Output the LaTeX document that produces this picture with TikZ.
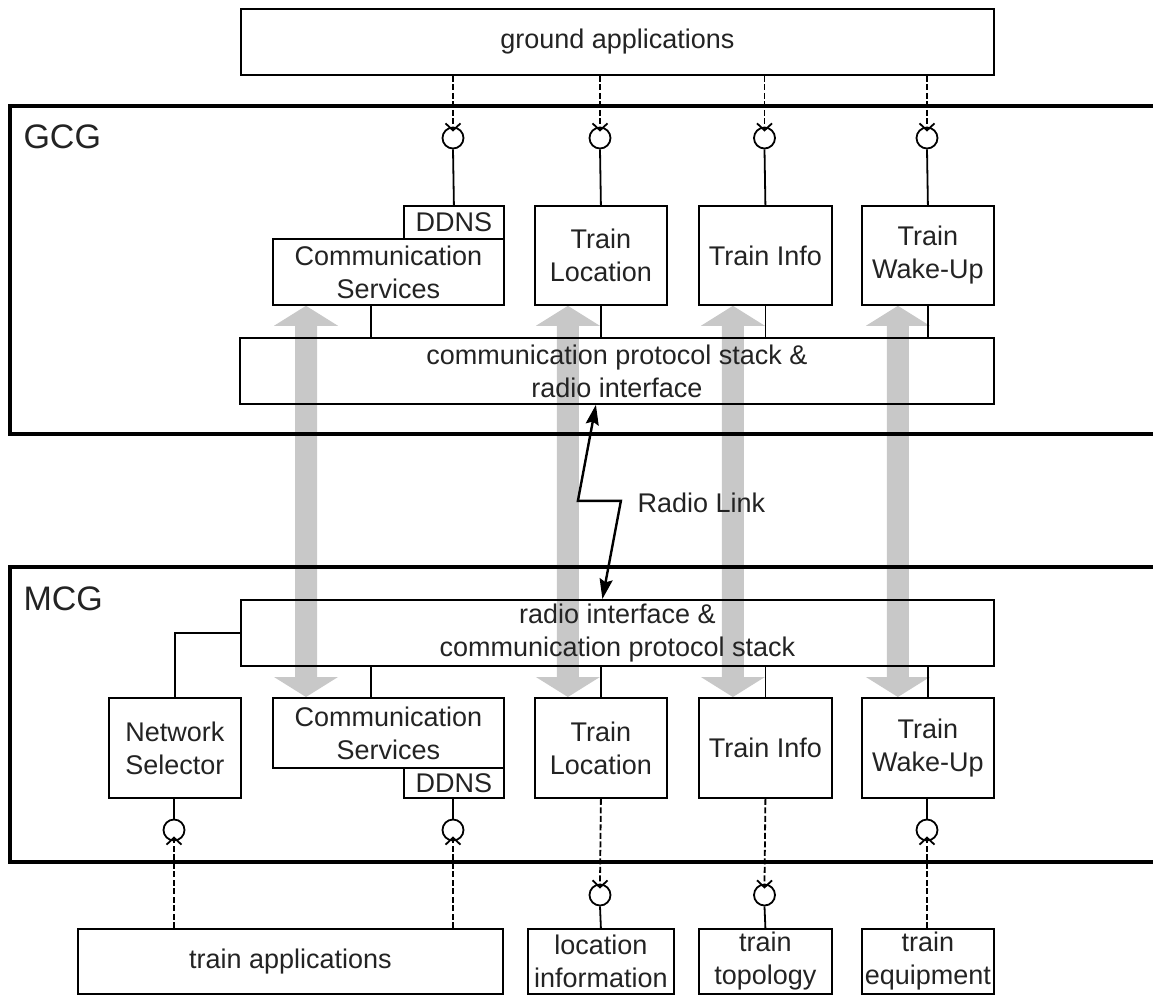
\documentclass[tikz,border=0pt]{standalone}
\usepackage{fontspec}
\setmainfont{Liberation Sans}
\usetikzlibrary{arrows.meta,backgrounds}
\definecolor{flowgray}{RGB}{200,200,200}
\definecolor{inkgray}{RGB}{35,35,35}

% wide grey double-headed data-flow arrow between two tip points
\newcommand\dblflow[2]{%
  \path (#1) coordinate (ft) (#2) coordinate (fb);
  \fill[flowgray] (ft) -- ([shift={(32,20)}]ft) -- ([shift={(11,20)}]ft)
    -- ([shift={(11,-20)}]fb) -- ([shift={(32,-20)}]fb) -- (fb)
    -- ([shift={(-32,-20)}]fb) -- ([shift={(-11,-20)}]fb)
    -- ([shift={(-11,20)}]ft) -- ([shift={(-32,20)}]ft) -- cycle;}

\begin{document}
\begin{tikzpicture}[x=1pt,y=-1pt,
  every node/.style={font=\fontsize{27}{33}\selectfont, text=inkgray},
  blk/.style={draw, line width=1.8pt, inner sep=0pt, align=center, anchor=north west},
  sz/.style 2 args={minimum width=#1, minimum height=#2},
  frame/.style={line width=3.2pt},
  iface/.style={circle, draw, line width=1.8pt, minimum size=21pt, inner sep=0pt},
  link/.style={line width=1.8pt},
  req/.style={line width=1.8pt, dash pattern=on 6pt off 2.5pt,
    -{Straight Barb[length=7pt,width=15pt,line width=1.8pt]}, shorten >=-5pt},
  radio/.style={line width=2.4pt, {Stealth[length=20pt,width=13pt,inset=3pt]}-{Stealth[length=20pt,width=13pt,inset=3pt]}},
  glabel/.style={anchor=base west, font=\fontsize{34}{40}\selectfont}
]
\useasboundingbox (0,0) rectangle (1153,994);

% ground side
\node[blk, sz={753pt}{66pt}] (ground) at (240,8) {ground applications};

\draw[frame] (1160,106) -- (10,106) -- (10,434) -- (1160,434);
\node[glabel] (gcg) at (20,148) {GCG};

\node[blk, sz={100pt}{33pt}] (gddns) at (403,205) {DDNS};
\node[blk, sz={231pt}{66pt}] (gcs) at (272,238) {Communication\\Services};
\node[blk, sz={132pt}{99pt}] (gloc) at (534,205) {Train\\Location};
\node[blk, sz={133pt}{99pt}] (ginfo) at (698,205) {Train Info};
\node[blk, sz={132pt}{99pt}] (gwake) at (861,205) {Train\\Wake-Up};
\node[blk, sz={754pt}{66pt}] (gstack) at (239,337) {communication protocol stack \&\\radio interface};

\node[iface] (gi1) at (453,138) {};
\node[iface] (gi2) at (600,138) {};
\node[iface] (gi3) at (764.5,138) {};
\node[iface] (gi4) at (927,138) {};

\foreach \i/\b in {gi1/gddns, gi2/gloc, gi3/ginfo, gi4/gwake}{
  \draw[req] (\i |- ground.south) -- (\i.north);
  \draw[link] (\i.south) -- (\b.north);
}

\coordinate (gcstap) at ([xshift=99pt]gcs.south west);
\draw[link] (gcstap) -- (gcstap |- gstack.north);
\foreach \b in {gloc, ginfo, gwake}
  \draw[link] (\b.south) -- (\b.south |- gstack.north);

% mobile side
\draw[frame] (1160,567) -- (10,567) -- (10,862) -- (1160,862);
\node[glabel] (mcg) at (20,610) {MCG};

\node[blk, sz={753pt}{66pt}] (mstack) at (240,599) {radio interface \&\\communication protocol stack};
\node[blk, sz={132pt}{100pt}] (ns) at (108,697) {Network\\Selector};
\node[blk, sz={231pt}{70pt}] (mcs) at (272,697) {Communication\\Services};
\node[blk, sz={100pt}{30pt}] (mddns) at (403,767) {DDNS};
\node[blk, sz={132pt}{100pt}] (mloc) at (534,697) {Train\\Location};
\node[blk, sz={133pt}{100pt}] (minfo) at (698,697) {Train Info};
\node[blk, sz={132pt}{100pt}] (mwake) at (861,697) {Train\\Wake-Up};

% radio link between the two gateways
\draw[radio] ([xshift=-21pt]gstack.south) -- ++(-18,96) -- ++(43,0) -- ([xshift=-15pt]mstack.north);
\node[anchor=base west] (rlink) at (634,512) {Radio Link};

\draw[link] (ns.north) |- (mstack.west);
\coordinate (mcstap) at ([xshift=99pt]mcs.north west);
\draw[link] (mcstap) -- (mcstap |- mstack.south);
\foreach \b in {mloc, minfo, mwake}
  \draw[link] (\b.north) -- (\b.north |- mstack.south);

% train side
\node[blk, sz={425pt}{65pt}] (tapps) at (77,928) {train applications};
\node[blk, sz={146pt}{65pt}] (locinfo) at (527,928) {location\\information};
\node[blk, sz={133pt}{65pt}] (topo) at (698,928) {train\\topology};
\node[blk, sz={132pt}{65pt}] (equip) at (861,928) {train\\equipment};

\node[iface] (mi1) at (174,830) {};
\node[iface] (mi2) at (453,830) {};
\node[iface] (mi3) at (927,830) {};
\node[iface] (mi4) at (600,895) {};
\node[iface] (mi5) at (764.5,895) {};

\foreach \i/\b/\t in {mi1/ns/tapps, mi2/mddns/tapps, mi3/mwake/equip}{
  \draw[link] (\b.south -| \i) -- (\i.north);
  \draw[req] (\i |- \t.north) -- (\i.south);
}
\foreach \i/\b/\t in {mi4/mloc/locinfo, mi5/minfo/topo}{
  \draw[req] (\b.south) -- (\i.north);
  \draw[link] (\i.south) -- (\t.north);
}

% data flows between matching services
\begin{scope}[on background layer]
  \dblflow{[xshift=34pt]gcs.south west}{[xshift=34pt]mcs.north west}
  \dblflow{[xshift=-33pt]gloc.south}{[xshift=-33pt]mloc.north}
  \dblflow{[xshift=-32.5pt]ginfo.south}{[xshift=-32.5pt]minfo.north}
  \dblflow{[xshift=-30pt]gwake.south}{[xshift=-30pt]mwake.north}
\end{scope}
\end{tikzpicture}
\end{document}
